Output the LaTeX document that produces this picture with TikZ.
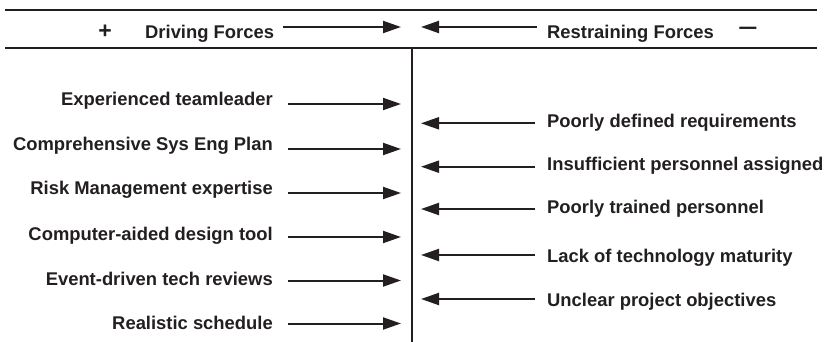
\documentclass[tikz,border=0pt]{standalone}
\usepackage{fontspec}
\setmainfont{Liberation Sans}
\usetikzlibrary{arrows.meta}
\definecolor{ink}{HTML}{231F20}
\begin{document}
\begin{tikzpicture}[x=1pt,y=-1pt,
  lbl/.style={font=\fontsize{18.4}{20}\selectfont\bfseries, text=ink, inner sep=0pt},
  sgn/.style={font=\fontsize{23}{24}\selectfont\bfseries, text=ink, inner sep=0pt},
  rule/.style={draw=ink, line width=2.4pt},
  fa/.style={draw=ink, line width=2pt, -{Triangle[length=18pt,width=12pt]}}]
\useasboundingbox (0,0) rectangle (831,342);
% rules
\draw[rule] (5,10) -- (817,10);
\draw[rule] (5,48) -- (817,48);
\draw[draw=ink, line width=2.2pt] (412,48) -- (412,342);
% header
\node[sgn] (plus) at (105,32) {+};
\node[lbl, anchor=base west] (drv) at (145,38.3) {Driving Forces};
\node[lbl, anchor=base west] (rst) at (547,38.3) {Restraining Forces};
\node[sgn] (minus) at (748,31) {\scalebox{1.5}[1]{–}};
\coordinate (dtail) at (283,27); \coordinate (dtip) at (401,27);
\coordinate (rtail) at (537,27); \coordinate (rtip) at (421,27);
\draw[fa] (dtail) -- (dtip);
\draw[fa] (rtail) -- (rtip);
% left rows
\foreach \i/\b/\a/\t in {1/106/104/Experienced teamleader,
                         2/151/149/Comprehensive Sys Eng Plan,
                         3/195/193/Risk Management expertise,
                         4/240.7/237/Computer-aided design tool,
                         5/285/280.5/Event-driven tech reviews,
                         6/329/323.5/Realistic schedule}{
  \node[lbl, anchor=base east] (L\i) at (273,\b) {\t};
  \coordinate (Ls\i) at (288,\a);
  \coordinate (Le\i) at (401,\a);
  \draw[fa] (Ls\i) -- (Le\i);
}
% right rows
\foreach \i/\b/\a/\t in {1/127.3/123.3/Poorly defined requirements,
                         2/170.7/166.7/Insufficient personnel assigned,
                         3/214/209/Poorly trained personnel,
                         4/262.7/255/Lack of technology maturity,
                         5/306/299/Unclear project objectives}{
  \node[lbl, anchor=base west] (R\i) at (547,\b) {\t};
  \coordinate (Rs\i) at (535,\a);
  \coordinate (Re\i) at (421,\a);
  \draw[fa] (Rs\i) -- (Re\i);
}
\end{tikzpicture}
\end{document}
